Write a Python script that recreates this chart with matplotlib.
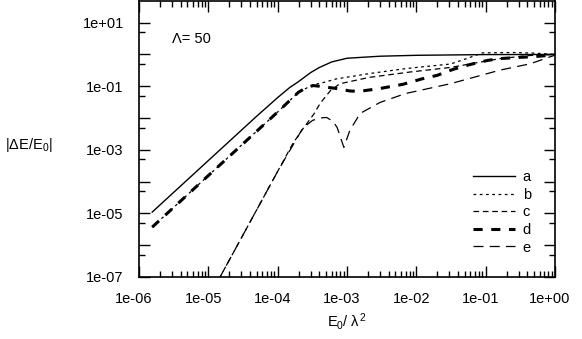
import matplotlib
matplotlib.use('Agg')

import matplotlib.pyplot as plt
import matplotlib.transforms as mtransforms
from matplotlib.ticker import FixedLocator, FuncFormatter, NullFormatter
import numpy as np

plt.rcParams['font.family'] = ['Liberation Sans', 'DejaVu Sans']
plt.rcParams['mathtext.fontset'] = 'custom'
plt.rcParams['mathtext.rm'] = 'Liberation Sans'
plt.rcParams['mathtext.it'] = 'Liberation Sans'
plt.rcParams['mathtext.sf'] = 'Liberation Sans'

# curve data (x = E0/lambda^2, y = |dE/E0|)
xa = [1.55e-6, 1e-5, 5e-5, 1e-4, 1.5e-4, 2e-4, 3e-4, 4e-4, 6e-4, 1e-3, 3e-3, 1e-2, 1e-1, 1.0]
ya = [1.1e-5, 4.6e-4, 1.15e-2, 4.4e-2, 0.092, 0.14, 0.27, 0.39, 0.58, 0.76, 0.88, 0.94, 0.99, 1.0]

xb = [1.55e-6, 1e-5, 1e-4, 2e-4, 3.2e-4, 4.5e-4, 7e-4, 2.1e-3, 5.8e-3, 1e-2, 3.1e-2,
      5.4e-2, 9e-2, 0.25, 0.5, 1.0]
yb = [3.7e-6, 1.55e-4, 1.55e-2, 0.065, 0.11, 0.13, 0.17, 0.25, 0.34, 0.39, 0.5,
      0.75, 1.12, 1.15, 1.1, 1.0]

xc = [1.4e-5, 3e-5, 1e-4, 1.66e-4, 2.3e-4, 3.3e-4, 4.1e-4, 5.8e-4, 7.9e-4, 2.1e-3,
      8.1e-3, 3.1e-2, 0.16, 0.44, 1.0]
yc = [8.1e-8, 1.7e-6, 2.1e-4, 1.6e-3, 4.5e-3, 0.013, 0.029, 0.074, 0.12, 0.19,
      0.28, 0.39, 0.74, 0.93, 1.0]

xd = [1.55e-6, 1e-5, 1e-4, 2e-4, 2.7e-4, 3.3e-4, 4e-4, 7e-4, 1.1e-3, 1.5e-3, 3e-3,
      6.4e-3, 1.2e-2, 2e-2, 3.4e-2, 5.9e-2, 0.107, 0.16, 0.28, 0.48, 0.8, 1.0]
yd = [3.7e-6, 1.55e-4, 1.55e-2, 0.065, 0.095, 0.105, 0.10, 0.085, 0.071, 0.069, 0.085,
      0.115, 0.17, 0.22, 0.34, 0.48, 0.65, 0.74, 0.8, 0.85, 0.93, 1.0]

xe = [1.4e-5, 3e-5, 1e-4, 1.66e-4, 2.3e-4, 3.2e-4, 4.4e-4, 5.1e-4, 6.2e-4, 7.2e-4,
      9e-4, 1.1e-3, 1.55e-3, 3e-3, 7e-3, 3.1e-2, 0.16, 0.44, 1.0]
ye = [8.1e-8, 1.7e-6, 2.1e-4, 1.4e-3, 4.8e-3, 8.5e-3, 0.0102, 0.0104, 0.008, 0.0051,
      0.0012, 0.0041, 0.014, 0.031, 0.059, 0.12, 0.32, 0.51, 0.95]

labels = ['a', 'b', 'c', 'd', 'e']

fig = plt.figure(figsize=(5.82, 3.39), dpi=100)
ax = fig.add_axes([139 / 582, 62 / 339, 416 / 582, 276 / 339])

ax.plot(xa, ya, color='black', lw=1.0, label=labels[0])
ax.plot(xb, yb, color='black', lw=0.9, linestyle=(0, (2.2, 2.8)), label=labels[1])
ax.plot(xc, yc, color='black', lw=0.9, linestyle=(0, (4.5, 3.0)), label=labels[2])
ax.plot(xd, yd, color='black', lw=2.2, linestyle=(0, (3.0, 2.8)), label=labels[3])
ax.plot(xe, ye, color='black', lw=0.9, linestyle=(0, (8.0, 5.0)), label=labels[4])

ax.set_xscale('log')
ax.set_yscale('log')
ax.set_xlim(1e-6, 1.0)
ax.set_ylim(1e-7, 48)

# y: long ticks every decade, labels every second decade, short ticks at 5x10^k
ydec = [10.0 ** k for k in range(-7, 2)]
ax.yaxis.set_major_locator(FixedLocator(ydec))
ax.yaxis.set_major_formatter(FuncFormatter(
    lambda v, p: f'{v:.0e}' if int(round(np.log10(v))) % 2 != 0 else ''))
ax.yaxis.set_minor_locator(FixedLocator([5 * 10.0 ** k for k in range(-8, 1)]))
ax.yaxis.set_minor_formatter(NullFormatter())

xdec = [10.0 ** k for k in range(-6, 1)]
ax.xaxis.set_major_locator(FixedLocator(xdec))
ax.xaxis.set_major_formatter(FuncFormatter(lambda v, p: f'{v:.0e}'))
ax.xaxis.set_minor_locator(FixedLocator([m * 10.0 ** k for k in range(-6, 0) for m in range(2, 10)]))
ax.xaxis.set_minor_formatter(NullFormatter())

ax.tick_params(which='both', direction='in', top=True, right=True, width=1.0,
               labelsize=10.5, pad=11)
ax.tick_params(which='major', length=8)
ax.tick_params(which='minor', length=4)
for s in ax.spines.values():
    s.set_linewidth(1.2)

# x tick labels sit a few pixels left of their ticks in the original
shift = mtransforms.ScaledTranslation(-5 / 100, 0, fig.dpi_scale_trans)
for lab in ax.xaxis.get_majorticklabels():
    lab.set_transform(lab.get_transform() + shift)

fig.text(172 / 582, 1 - 39 / 339, 'Λ= 50', fontsize=10.5, va='center', ha='left')
fig.text(5 / 582, 1 - 145 / 339, r'$|\Delta E/E_0|$', fontsize=10.5, va='center', ha='left')
fig.text(347 / 582, 1 - 322 / 339, r'$E_0/\ \lambda^2$', fontsize=10.5, va='center', ha='center')

ax.legend(loc='upper left', bbox_to_anchor=(473 / 582, 1 - 170 / 339),
          bbox_transform=fig.transFigure, frameon=False, fontsize=10.5,
          handlelength=2.85, handletextpad=0.55, labelspacing=0.25,
          borderpad=0, borderaxespad=0)

fig.savefig('out.png', dpi=100)
plt.close(fig)
